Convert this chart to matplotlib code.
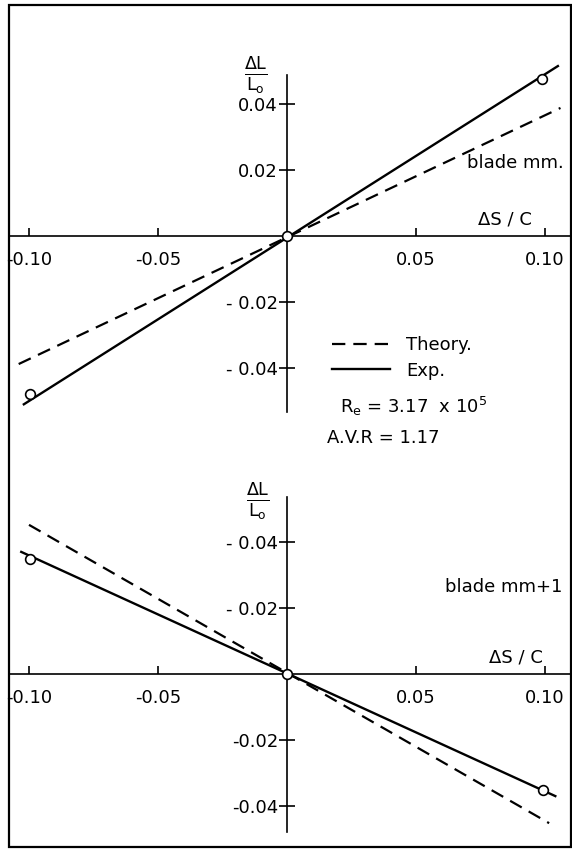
import matplotlib
matplotlib.use('Agg')
import matplotlib.pyplot as plt
from matplotlib.lines import Line2D
from matplotlib.patches import Rectangle

plt.rcParams['font.family'] = ['DejaVu Sans']
plt.rcParams['mathtext.fontset'] = 'dejavusans'

# данные
xticks = [-0.10, -0.05, 0.05, 0.10]
xticklabels = ['-0.10', '-0.05', '0.05', '0.10']
yticks = [0.04, 0.02, -0.02, -0.04]
top_yticklabels = ['0.04', '0.02', '- 0.02', '- 0.04']
bot_yticklabels = ['- 0.04', '- 0.02', '-0.02', '-0.04']

# blade mm
top_theory_x = [-0.104, 0.106]
top_theory_y = [-0.0388, 0.0388]
top_exp_x = [-0.102, 0.105]
top_exp_y = [-0.0510, 0.0515]
top_pts_x = [-0.0996, 0.0, 0.099]
top_pts_y = [-0.0479, 0.0, 0.0476]

# blade mm+1
bot_theory_x = [-0.100, 0.1016]
bot_theory_y = [0.0452, -0.0452]
bot_exp_x = [-0.103, 0.104]
bot_exp_y = [0.0370, -0.0370]
bot_pts_x = [-0.0996, 0.0, 0.0992]
bot_pts_y = [0.0348, 0.0, -0.0352]

W, H = 572, 850
fig = plt.figure(figsize=(W / 100, H / 100), dpi=100)

FS = 13
DASH = (6.0, 3.6)


def make_axes(top_px, bot_px, zero_px):
    ax = fig.add_axes([9 / W, 1 - bot_px / H, 562 / W, (bot_px - top_px) / H])
    k = 3300.0
    ax.set_xlim((9 - 287) / 2580, (571 - 287) / 2580)
    ax.set_ylim((zero_px - bot_px) / k, (zero_px - top_px) / k)
    for s in ['top', 'right']:
        ax.spines[s].set_visible(False)
    ax.spines['left'].set_position(('data', 0))
    ax.spines['bottom'].set_position(('data', 0))
    for s in ['left', 'bottom']:
        ax.spines[s].set_linewidth(1.2)
    ax.patch.set_alpha(0)
    ax.set_xticks(xticks)
    ax.set_xticklabels(xticklabels)
    ax.set_yticks(yticks)
    ax.tick_params(axis='x', direction='in', length=6, width=1.2, pad=11, labelsize=FS)
    ax.tick_params(axis='y', direction='inout', length=11, width=1.2, pad=1, labelsize=FS)
    return ax


def draw(ax, tx, ty, ex, ey, px, py):
    ax.plot(tx, ty, color='black', lw=1.6, dashes=DASH, clip_on=False)
    ax.plot(ex, ey, color='black', lw=1.7, clip_on=False)
    ax.plot(px, py, 'o', ms=7, mfc='white', mec='black', mew=1.2, clip_on=False, zorder=5)


ax1 = make_axes(75, 412, 236)
ax1.set_yticklabels(top_yticklabels)
draw(ax1, top_theory_x, top_theory_y, top_exp_x, top_exp_y, top_pts_x, top_pts_y)

ax2 = make_axes(497, 832, 674)
ax2.set_yticklabels(bot_yticklabels)
draw(ax2, bot_theory_x, bot_theory_y, bot_exp_x, bot_exp_y, bot_pts_x, bot_pts_y)

# подписи
frac = r'$\frac{\mathregular{\Delta L}}{\mathregular{L_o}}$'
fig.text(256 / W, 1 - 76 / H, frac, fontsize=18, ha='center', va='center')
fig.text(258 / W, 1 - 502 / H, frac, fontsize=18, ha='center', va='center')
fig.text(478 / W, 1 - 220 / H, 'ΔS / C', fontsize=FS, ha='left', va='center')
fig.text(489 / W, 1 - 658 / H, 'ΔS / C', fontsize=FS, ha='left', va='center')
fig.text(467 / W, 1 - 163 / H, 'blade mm.', fontsize=FS, ha='left', va='center')
fig.text(445 / W, 1 - 587 / H, 'blade mm+1', fontsize=FS, ha='left', va='center')

handles = [Line2D([], [], color='black', lw=1.6, dashes=DASH),
           Line2D([], [], color='black', lw=1.7)]
fig.legend(handles, ['Theory.', 'Exp.'], loc='upper left',
           bbox_to_anchor=(318 / W, 1 - 322 / H), frameon=False, fontsize=FS,
           handlelength=3.2, handletextpad=0.9, labelspacing=0.4, borderpad=0.3)

fig.text(340 / W, 1 - 406 / H, r'$\mathregular{R_e}$ = 3.17  x 10$^\mathregular{5}$', fontsize=FS,
         ha='left', va='center')
fig.text(327 / W, 1 - 438 / H, 'A.V.R = 1.17', fontsize=FS, ha='left', va='center')

# рамка
fig.patches.append(Rectangle((9 / W, 3 / H), 562 / W, 842 / H, transform=fig.transFigure,
                             fill=False, lw=1.6, edgecolor='black'))

fig.savefig('out.png', dpi=100)
